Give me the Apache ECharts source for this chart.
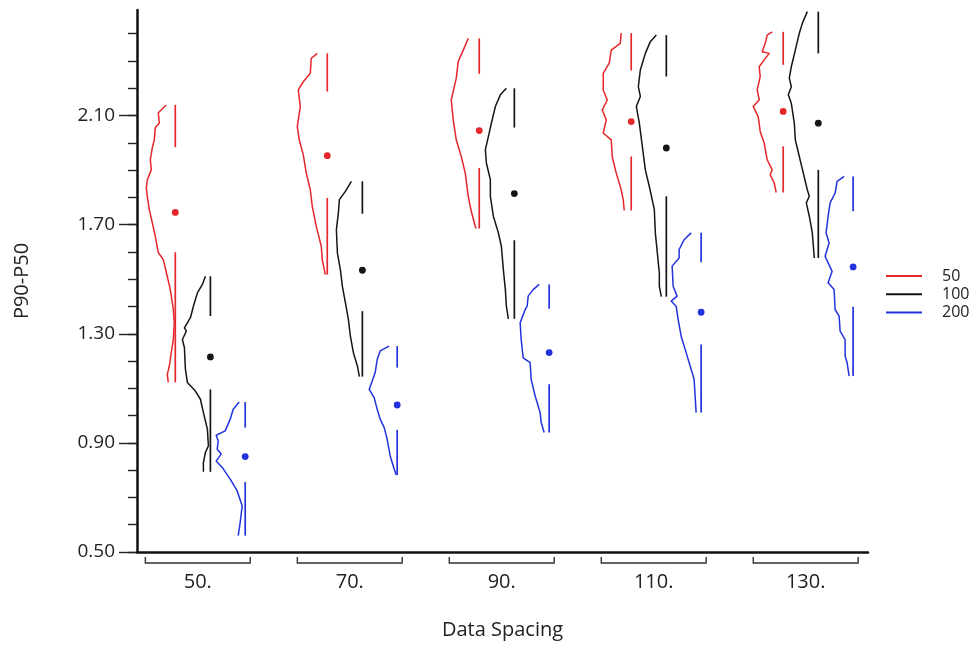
<!DOCTYPE html>
<html>
<head>
<meta charset="utf-8">
<script src="https://cdn.jsdelivr.net/npm/echarts@6/dist/echarts.min.js"></script>
<style>
html,body{margin:0;padding:0;background:#fff;}
#chart{width:973px;height:645px;}
</style>
</head>
<body>
<div id="chart"></div>
<script>
// ---------------- DATA ----------------
const groupLabels = ['50.', '70.', '90.', '110.', '130.'];
const seriesNames = ['50', '100', '200'];

const yMajorTicks = [0.5, 0.9, 1.3, 1.7, 2.1];
const yMinorTicks = [0.5, 0.6, 0.7, 0.8, 0.9, 1.0, 1.1, 1.2, 1.3, 1.4, 1.5, 1.6, 1.7, 1.8, 1.9, 2.0, 2.1, 2.2, 2.3, 2.4];

// quartile-plot stats per group: [max, q3, median, q1, min]
const stats50 = [
  [2.139, 1.984, 1.745, 1.599, 1.122],
  [2.328, 2.188, 1.953, 1.798, 1.517],
  [2.383, 2.253, 2.045, 1.908, 1.686],
  [2.402, 2.265, 2.078, 1.950, 1.752],
  [2.407, 2.286, 2.115, 1.987, 1.818]
];
const stats100 = [
  [1.511, 1.365, 1.215, 1.096, 0.794],
  [1.859, 1.740, 1.533, 1.383, 1.143],
  [2.200, 2.056, 1.814, 1.643, 1.355],
  [2.395, 2.243, 1.981, 1.804, 1.436],
  [2.481, 2.328, 2.072, 1.901, 1.578]
];
const stats200 = [
  [1.050, 0.956, 0.850, 0.757, 0.560],
  [1.255, 1.176, 1.039, 0.948, 0.782],
  [1.481, 1.392, 1.231, 1.115, 0.938],
  [1.670, 1.562, 1.379, 1.261, 1.011],
  [1.877, 1.749, 1.545, 1.399, 1.145]
];

// half-violin outlines per group: [value, density]
const outline50 = [
  [[2.139,9],[2.110,17],[2.073,16],[2.055,20],[2.011,21],[1.982,23],[1.938,25],[1.901,24],[1.865,28],[1.835,29],[1.803,28],[1.755,26],[1.707,23],[1.656,20],[1.598,17],[1.572,12],[1.510,8],[1.462,5],[1.389,2],[1.342,1],[1.279,2],[1.232,4],[1.181,6],[1.151,8],[1.122,7]],
  [[2.328,10],[2.310,16],[2.255,17],[2.224,24],[2.194,29],[2.133,27],[2.060,30],[2.011,28],[1.956,24],[1.889,21],[1.828,17],[1.767,15],[1.694,11],[1.621,6],[1.572,5],[1.517,2]],
  [[2.383,11],[2.340,16],[2.298,21],[2.237,23],[2.157,28],[2.084,26],[2.011,23],[1.950,18],[1.889,14],[1.804,11],[1.749,8],[1.694,4],[1.686,3]],
  [[2.402,10],[2.365,11],[2.340,20],[2.292,22],[2.255,28],[2.194,28],[2.157,24],[2.121,29],[2.084,25],[2.036,28],[2.011,20],[1.950,19],[1.889,15],[1.828,10],[1.792,8],[1.752,7]],
  [[2.407,11],[2.395,16],[2.365,18],[2.334,21],[2.328,14],[2.304,19],[2.279,24],[2.243,23],[2.194,26],[2.157,24],[2.133,30],[2.096,25],[2.042,23],[1.999,19],[1.938,16],[1.901,11],[1.883,13],[1.853,9],[1.818,7]]
];
const outline100 = [
  [[1.511,5],[1.481,8],[1.450,13],[1.401,17],[1.359,20],[1.322,26],[1.310,24],[1.279,28],[1.249,26],[1.170,25],[1.121,23],[1.090,15],[1.060,10],[1.011,7],[0.950,3],[0.889,2],[0.865,5],[0.828,7],[0.794,7]],
  [[1.859,11],[1.822,17],[1.792,23],[1.743,24],[1.682,26],[1.597,25],[1.535,22],[1.474,20],[1.414,17],[1.353,14],[1.291,12],[1.231,9],[1.182,5],[1.143,3]],
  [[2.200,8],[2.176,14],[2.133,19],[2.072,23],[2.023,26],[1.975,29],[1.926,28],[1.865,24],[1.804,24],[1.731,21],[1.670,16],[1.621,13],[1.535,11],[1.462,9],[1.401,8],[1.355,6]],
  [[2.395,10],[2.371,16],[2.328,21],[2.267,26],[2.206,28],[2.170,26],[2.133,30],[2.072,27],[1.987,24],[1.901,21],[1.840,17],[1.755,12],[1.670,11],[1.597,9],[1.523,7],[1.474,7],[1.436,5]],
  [[2.481,11],[2.438,16],[2.402,19],[2.340,23],[2.279,27],[2.237,29],[2.206,27],[2.176,30],[2.145,27],[2.072,24],[2.011,23],[1.950,19],[1.889,15],[1.828,11],[1.804,9],[1.780,12],[1.731,9],[1.670,6],[1.578,4]]
];
const outline200 = [
  [[1.050,6],[1.023,12],[0.987,15],[0.944,20],[0.928,29],[0.907,27],[0.877,28],[0.859,24],[0.834,29],[0.810,23],[0.767,15],[0.724,8],[0.669,3],[0.609,5],[0.560,7]],
  [[1.255,8],[1.237,17],[1.206,20],[1.158,22],[1.096,28],[1.066,23],[1.023,20],[0.987,17],[0.956,13],[0.913,10],[0.852,7],[0.804,3],[0.782,1]],
  [[1.481,10],[1.462,16],[1.438,21],[1.401,22],[1.389,24],[1.340,29],[1.279,28],[1.212,26],[1.194,19],[1.133,18],[1.072,14],[1.011,9],[0.975,8],[0.938,5]],
  [[1.670,10],[1.645,17],[1.609,22],[1.578,22],[1.548,29],[1.474,28],[1.438,24],[1.420,30],[1.401,25],[1.353,23],[1.291,20],[1.231,15],[1.170,10],[1.133,7],[1.072,6],[1.011,5]],
  [[1.877,9],[1.859,16],[1.816,18],[1.780,23],[1.731,25],[1.670,27],[1.633,24],[1.584,28],[1.529,21],[1.487,25],[1.462,19],[1.389,18],[1.365,14],[1.310,13],[1.279,8],[1.218,8],[1.194,6],[1.145,4]]
];

// ---------------- STYLE ----------------
const FONT = '"Open Sans", "Noto Sans", sans-serif';
const COLORS = ['#e5262b', '#151515', '#2233dd'];
const SERIES_OFFSET = [-0.148, 0.083, 0.312]; // position inside a group (group units)
const DENSITY_SCALE = 1 / 152;                 // density -> group units
const BRACKET_HALF = 0.345;

const chart = echarts.init(document.getElementById('chart'), null, {renderer: 'canvas'});

function violinRenderer(stats, outlines, offset, color) {
  return function (params, api) {
    const i = params.dataIndex;
    const xc = api.value(0) + offset;
    const pts = outlines[i].map(p => api.coord([xc - p[1] * DENSITY_SCALE, p[0]]));
    const s = stats[i];
    const top = api.coord([xc, s[0]]);
    const q3 = api.coord([xc, s[1]]);
    const med = api.coord([xc, s[2]]);
    const q1 = api.coord([xc, s[3]]);
    const bot = api.coord([xc, s[4]]);
    return {
      type: 'group',
      children: [
        {type: 'polyline', shape: {points: pts}, style: {stroke: color, fill: null, lineWidth: 1.5, lineJoin: 'round'}},
        {type: 'line', shape: {x1: top[0], y1: top[1], x2: q3[0], y2: q3[1]}, style: {stroke: color, lineWidth: 1.7}},
        {type: 'line', shape: {x1: q1[0], y1: q1[1], x2: bot[0], y2: bot[1]}, style: {stroke: color, lineWidth: 1.7}},
        {type: 'circle', shape: {cx: med[0], cy: med[1], r: 3.4}, style: {fill: color}}
      ]
    };
  };
}

function makeViolinSeries(k, stats, outlines) {
  return {
    type: 'custom',
    name: seriesNames[k],
    xAxisIndex: 0,
    yAxisIndex: 0,
    itemStyle: {color: COLORS[k]},
    data: groupLabels.map((g, i) => [i, stats[i][2]]),
    encode: {x: 0, y: 1},
    renderItem: violinRenderer(stats, outlines, SERIES_OFFSET[k], COLORS[k]),
    silent: true
  };
}

const option = {
  animation: false,
  backgroundColor: '#ffffff',
  color: COLORS,
  grid: {left: 137, right: 105, top: 10, bottom: 92, containLabel: false},
  legend: {
    orient: 'vertical',
    left: 886,
    top: 268,
    padding: 0,
    itemWidth: 36,
    itemHeight: 2,
    itemGap: 2.3,
    data: seriesNames.map(n => ({name: n, icon: 'rect'})),
    textStyle: {fontFamily: FONT, fontSize: 16, color: '#222', padding: [0, 0, 0, 15]}
  },
  xAxis: [{
    type: 'value',
    min: -0.4,
    max: 4.41,
    name: 'Data Spacing',
    nameLocation: 'middle',
    nameGap: 68,
    nameTextStyle: {fontFamily: FONT, fontSize: 20, color: '#222'},
    axisLine: {show: true, onZero: false, lineStyle: {color: '#111', width: 2.5}},
    axisTick: {show: false},
    splitLine: {show: false},
    axisLabel: {
      customValues: groupLabels.map((g, i) => i),
      formatter: v => groupLabels[Math.round(v)],
      fontFamily: FONT, fontSize: 20, color: '#222', margin: 20
    }
  }],
  yAxis: [{
    type: 'value',
    min: 0.5,
    max: 2.487,
    position: 'left',
    name: 'P90-P50',
    nameLocation: 'middle',
    nameGap: 105,
    nameTextStyle: {fontFamily: FONT, fontSize: 20, color: '#222'},
    axisLine: {show: true, onZero: false, lineStyle: {color: '#111', width: 2.5}},
    axisTick: {show: true, length: 18, customValues: yMajorTicks, lineStyle: {color: '#222', width: 1.4}},
    splitLine: {show: false},
    axisLabel: {
      customValues: yMajorTicks,
      formatter: v => v.toFixed(2),
      fontFamily: FONT, fontSize: 19, color: '#222', margin: 22
    }
  }, {
    type: 'value',
    min: 0.5,
    max: 2.487,
    position: 'left',
    offset: 0,
    axisLine: {show: false, onZero: false},
    axisTick: {show: true, length: 9, customValues: yMinorTicks, lineStyle: {color: '#222', width: 1.4}},
    axisLabel: {show: false},
    splitLine: {show: false}
  }],
  series: [
    makeViolinSeries(0, stats50, outline50),
    makeViolinSeries(1, stats100, outline100),
    makeViolinSeries(2, stats200, outline200),
    {
      type: 'custom',
      name: 'brackets',
      xAxisIndex: 0,
      yAxisIndex: 0,
      silent: true,
      clip: false,
      data: groupLabels.map((g, i) => [i, 0.5]),
      encode: {x: 0, y: 1},
      renderItem: function (params, api) {
        const x = api.value(0);
        const l = api.coord([x - BRACKET_HALF, 0.5]);
        const r = api.coord([x + BRACKET_HALF, 0.5]);
        return {
          type: 'polyline',
          shape: {points: [[l[0], l[1] + 5], [l[0], l[1] + 11], [r[0], r[1] + 11], [r[0], r[1] + 5]]},
          style: {stroke: '#333', fill: null, lineWidth: 1.4}
        };
      }
    }
  ]
};
chart.setOption(option);
</script>
</body>
</html>
